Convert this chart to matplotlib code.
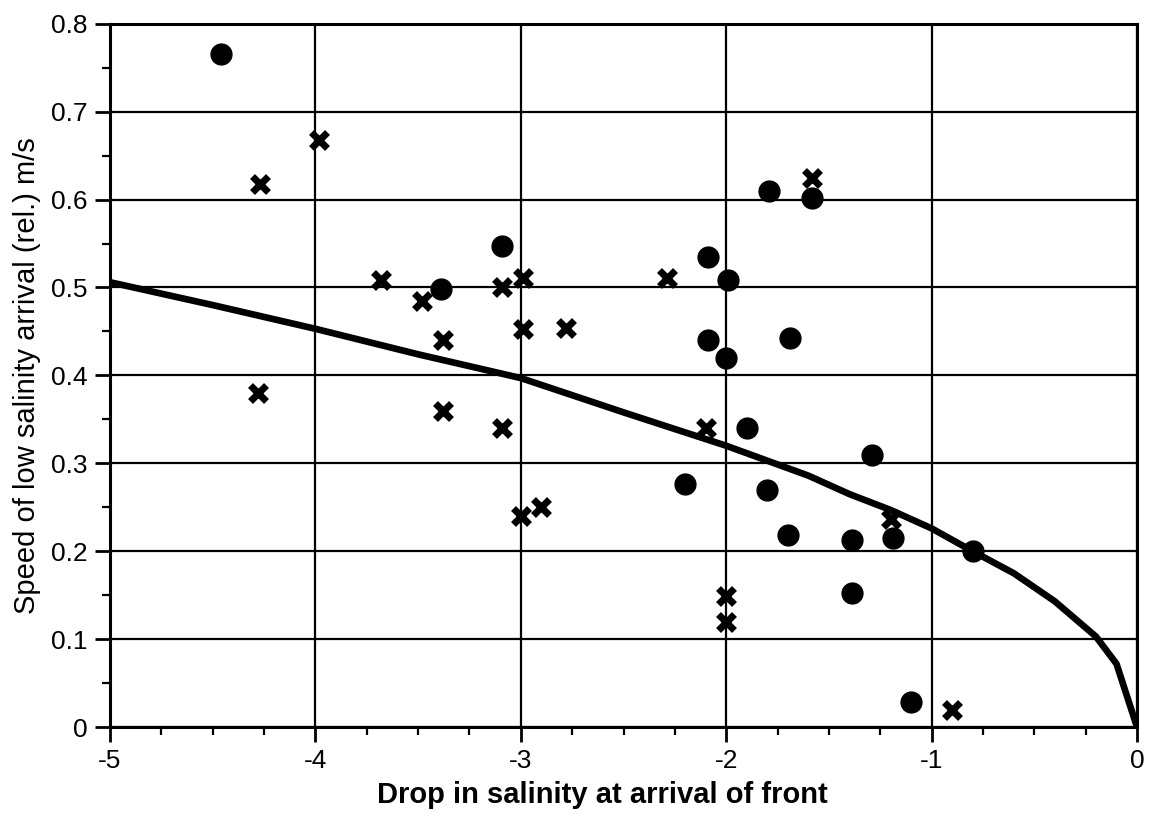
import numpy as np
import matplotlib.pyplot as plt
from matplotlib.ticker import MultipleLocator

plt.rcParams['font.family'] = ['Liberation Sans', 'DejaVu Sans']

# circles
circ_x = [-4.46, -3.09, -3.39, -1.79, -1.58, -2.09, -1.99, -2.09, -2.0, -1.69,
          -1.9, -1.29, -1.8, -2.2, -1.7, -1.39, -1.19, -0.8, -1.39, -1.1]
circ_y = [0.765, 0.547, 0.498, 0.61, 0.602, 0.535, 0.509, 0.44, 0.42, 0.443,
          0.34, 0.31, 0.27, 0.276, 0.219, 0.213, 0.215, 0.2, 0.152, 0.029]

# crosses
cross_x = [-4.27, -3.98, -4.28, -3.68, -3.48, -3.38, -3.09, -2.99, -2.99, -2.78,
           -2.29, -3.38, -3.09, -3.0, -2.9, -2.1, -2.0, -2.0, -1.2, -0.9, -1.58]
cross_y = [0.618, 0.668, 0.38, 0.509, 0.485, 0.44, 0.50, 0.511, 0.453, 0.454,
           0.511, 0.36, 0.34, 0.24, 0.25, 0.34, 0.149, 0.12, 0.237, 0.019, 0.624]

# fitted curve
curve_x = [-5, -4.5, -4, -3.5, -3, -2.5, -2, -1.8, -1.6, -1.4, -1.2, -1,
           -0.8, -0.6, -0.4, -0.2, -0.1, 0]
curve_y = [0.506, 0.48, 0.453, 0.424, 0.397, 0.358, 0.32, 0.303, 0.286, 0.265,
           0.247, 0.226, 0.2, 0.175, 0.143, 0.103, 0.072, 0.0]

fig = plt.figure(figsize=(11.54, 8.17), dpi=100)
ax = fig.add_axes([0.0953, 0.110, 0.890, 0.861])

ax.grid(True, color='black', linewidth=1.6)
ax.set_axisbelow(True)

ax.plot(curve_x, curve_y, color='black', linewidth=4.8, zorder=3)
ax.plot(circ_x, circ_y, 'o', color='black', markersize=15, zorder=4)
ax.plot(cross_x, cross_y, 'x', color='black', markersize=11, markeredgewidth=5, zorder=4)

ax.set_xlim(-5, 0)
ax.set_ylim(0, 0.8)
ax.xaxis.set_major_locator(MultipleLocator(1))
ax.xaxis.set_minor_locator(MultipleLocator(0.25))
ax.yaxis.set_major_locator(MultipleLocator(0.1))
ax.yaxis.set_minor_locator(MultipleLocator(0.05))
ax.yaxis.set_major_formatter(plt.FuncFormatter(lambda v, p: '0' if v == 0 else f'{v:.1f}'))
ax.xaxis.set_major_formatter(plt.FuncFormatter(lambda v, p: f'{v:.0f}'))

for s in ax.spines.values():
    s.set_linewidth(2.2)
ax.tick_params(which='major', length=11, width=2, labelsize=19, direction='out', pad=5)
ax.tick_params(which='minor', length=6, width=1.6, direction='out')

ax.set_xlabel('Drop in salinity at arrival of front', fontsize=21, fontweight='bold', va='center')
ax.set_ylabel('Speed of low salinity arrival (rel.) m/s', fontsize=21, va='center')
ax.xaxis.set_label_coords(0.479, -0.097)
ax.yaxis.set_label_coords(-0.081, 0.5)

plt.savefig('out.png', dpi=100)
